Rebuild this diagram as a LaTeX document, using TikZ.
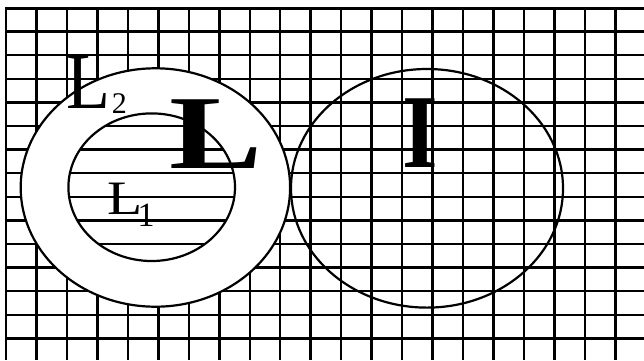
\documentclass[tikz,border=0pt]{standalone}
\usepackage{fontspec}
\setmainfont{Liberation Serif}
\usepackage{graphicx}
\begin{document}
\begin{tikzpicture}[x=1pt,y=-1pt,
  gridline/.style={line width=2.5pt, black},
  ring/.style={line width=2.2pt, black},
  lbl/.style={anchor=base west, inner sep=0pt, outer sep=0pt}]
\useasboundingbox (0,0) rectangle (644,360);
% grid
\foreach \k in {0,...,20} \draw[gridline] ({6+30.47*\k},8) -- ({6+30.47*\k},360);
\foreach \j in {1,...,14} \draw[gridline] (5,{8+23.6*\j}) -- (644,{8+23.6*\j});
\draw[line width=3pt] (5,8) -- (644,8);
% outer ellipse L2 (white ring)
\fill[white] (155.4,187.5) ellipse [x radius=134.7, y radius=119.2];
% inner ellipse L1 with horizontal lines
\begin{scope}
  \clip (151.7,187.2) ellipse [x radius=83.3, y radius=73.8];
  \foreach \j in {1,...,14} \draw[gridline] (5,{8+23.6*\j}) -- (644,{8+23.6*\j});
\end{scope}
\draw[ring] (155.4,187.5) ellipse [x radius=134.7, y radius=119.2];
\draw[ring] (151.7,187.2) ellipse [x radius=83.3, y radius=73.8];
% right ellipse I
\draw[ring] (427,188.3) ellipse [x radius=136, y radius=119.3];
% labels
\node[lbl] (l2) at (66,108.3) {\fontsize{80}{80}\selectfont\scalebox{0.9}[1]{L}\kern2pt\raisebox{-5pt}{\fontsize{30}{30}\selectfont 2}};
\node[lbl] (l1) at (107,214.3) {\fontsize{48}{48}\selectfont\scalebox{1.2}[1]{L}\kern-4.5pt\raisebox{-12.4pt}{\fontsize{34}{34}\selectfont 1}};
\node[lbl] (bigL) at (169.5,168) {\fontsize{105}{105}\selectfont\bfseries\scalebox{1.33}[1]{L}};
\node[lbl] (bigI) at (402,167) {\fontsize{105}{105}\selectfont\bfseries\scalebox{0.87}[1]{I}};
\end{tikzpicture}
\end{document}
